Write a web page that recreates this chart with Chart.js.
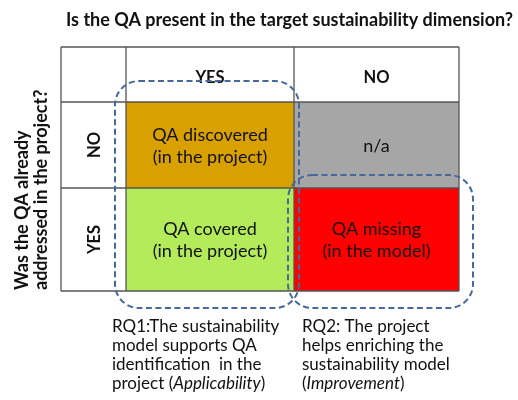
<!DOCTYPE html>
<html>
<head>
<meta charset="utf-8">
<script src="https://cdn.jsdelivr.net/npm/chart.js@4"></script>
<style>
  html, body { margin: 0; padding: 0; background: #fff; }
  #wrap { width: 518px; height: 400px; }
</style>
</head>
<body>
<div id="wrap"><canvas id="matrix" width="518" height="400"></canvas></div>
<script>
// categories
const colLabels = ['YES', 'NO'];
const rowLabels = ['NO', 'YES'];
const cellText = [
  [['QA discovered', '(in the project)'], ['n/a']],
  [['QA covered', '(in the project)'], ['QA missing', '(in the model)']]
];
const titleText = 'Is the QA present in the target sustainability dimension?';
const rowTitle = ['Was the QA already', 'addressed in the project?'];
// _text_ = italic
const notes = [
  ['RQ1:The sustainability', 'model supports QA', 'identification  in the', 'project (_Applicability_)'],
  ['RQ2: The project', 'helps enriching the', 'sustainability model', '(_Improvement_)']
];

// layout (scale units)
const colEdges = [0, 65, 233, 398];
const rowEdges = [0, 55, 141, 244];
const cellColors = [['#D9A100', '#A6A6A6'], ['#B3EB5A', '#FF0000']];
const groups = [
  { x0: 54, x1: 238, y0: 34, y1: 261 },
  { x0: 227, x1: 412, y0: 128, y1: 261 }
];
const FONT = 'Lato, "Noto Sans", sans-serif';
const ink = '#111';

function roundRect(ctx, x0, y0, x1, y1, r) {
  ctx.beginPath();
  ctx.moveTo(x0 + r, y0);
  ctx.lineTo(x1 - r, y0);
  ctx.arcTo(x1, y0, x1, y0 + r, r);
  ctx.lineTo(x1, y1 - r);
  ctx.arcTo(x1, y1, x1 - r, y1, r);
  ctx.lineTo(x0 + r, y1);
  ctx.arcTo(x0, y1, x0, y1 - r, r);
  ctx.lineTo(x0, y0 + r);
  ctx.arcTo(x0, y0, x0 + r, y0, r);
  ctx.closePath();
}

function richLine(ctx, str, x, y, size) {
  str.split('_').forEach((part, i) => {
    ctx.font = (i % 2 ? 'italic ' : '') + size + 'px ' + FONT;
    ctx.fillText(part, x, y);
    x += ctx.measureText(part).width;
  });
}

const matrixPlugin = {
  id: 'matrix',
  afterDraw(chart) {
    const { ctx, scales: { x, y } } = chart;
    const px = v => x.getPixelForValue(v);
    const py = v => y.getPixelForValue(v);
    ctx.save();

    // cells
    rowLabels.forEach((r, ri) => {
      colLabels.forEach((c, ci) => {
        ctx.fillStyle = cellColors[ri][ci];
        ctx.fillRect(px(colEdges[ci + 1]), py(rowEdges[ri + 1]),
          px(colEdges[ci + 2]) - px(colEdges[ci + 1]), py(rowEdges[ri + 2]) - py(rowEdges[ri + 1]));
      });
    });

    // grid lines
    ctx.strokeStyle = '#555';
    ctx.lineWidth = 1.3;
    colEdges.forEach(v => {
      ctx.beginPath(); ctx.moveTo(px(v), py(rowEdges[0])); ctx.lineTo(px(v), py(rowEdges[3])); ctx.stroke();
    });
    rowEdges.forEach(v => {
      ctx.beginPath(); ctx.moveTo(px(colEdges[0]), py(v)); ctx.lineTo(px(colEdges[3]), py(v)); ctx.stroke();
    });

    ctx.fillStyle = ink;
    // header labels
    ctx.textAlign = 'center';
    ctx.textBaseline = 'alphabetic';
    ctx.font = 'bold 16.5px ' + FONT;
    colLabels.forEach((c, ci) => {
      const cx = (px(colEdges[ci + 1]) + px(colEdges[ci + 2])) / 2;
      const cy = (py(rowEdges[0]) + py(rowEdges[1])) / 2;
      ctx.fillText(c, cx, cy + 8);
    });
    // row labels (rotated)
    rowLabels.forEach((r, ri) => {
      const cx = (px(colEdges[0]) + px(colEdges[1])) / 2;
      const cy = (py(rowEdges[ri + 1]) + py(rowEdges[ri + 2])) / 2;
      ctx.save();
      ctx.translate(cx + 6, cy);
      ctx.rotate(-Math.PI / 2);
      ctx.fillText(r, 0, 0);
      ctx.restore();
    });

    // cell texts
    ctx.font = '18px ' + FONT;
    const lh = 22;
    cellText.forEach((row, ri) => {
      row.forEach((lines, ci) => {
        const cx = (px(colEdges[ci + 1]) + px(colEdges[ci + 2])) / 2;
        const cy = (py(rowEdges[ri + 1]) + py(rowEdges[ri + 2])) / 2;
        lines.forEach((t, li) => {
          ctx.fillText(t, cx, cy - (lines.length - 1) * lh / 2 + li * lh + 6.5);
        });
      });
    });

    // title
    ctx.font = 'bold 18px ' + FONT;
    ctx.fillText(titleText, px(228.5), py(-21));

    // row axis title (rotated, two lines)
    ctx.textAlign = 'left';
    ctx.font = 'bold 18px ' + FONT;
    ctx.save();
    ctx.translate(px(-61), py(243));
    ctx.rotate(-Math.PI / 2);
    rowTitle.forEach((t, i) => ctx.fillText(t, 0, 28 + i * 19));
    ctx.restore();

    // dashed groups
    ctx.strokeStyle = '#45699A';
    ctx.lineWidth = 2;
    ctx.setLineDash([6, 3.5]);
    groups.forEach(g => {
      roundRect(ctx, px(g.x0), py(g.y0), px(g.x1), py(g.y1), 24);
      ctx.stroke();
    });
    ctx.setLineDash([]);

    // notes below
    ctx.fillStyle = ink;
    notes.forEach((lines, ni) => {
      const nx = ni === 0 ? px(51) : px(241);
      lines.forEach((t, li) => richLine(ctx, t, nx, py(285) + li * 19, 17));
    });
    ctx.restore();
  }
};

new Chart(document.getElementById('matrix'), {
  type: 'scatter',
  data: { datasets: [] },
  options: {
    responsive: false,
    animation: false,
    layout: { padding: { left: 61, top: 47, right: 59, bottom: 109 } },
    plugins: { legend: { display: false }, tooltip: { enabled: false }, title: { display: false } },
    scales: {
      x: { type: 'linear', min: 0, max: 398, display: false },
      y: { type: 'linear', min: 0, max: 244, reverse: true, display: false }
    }
  },
  plugins: [matrixPlugin]
});
</script>
</body>
</html>
